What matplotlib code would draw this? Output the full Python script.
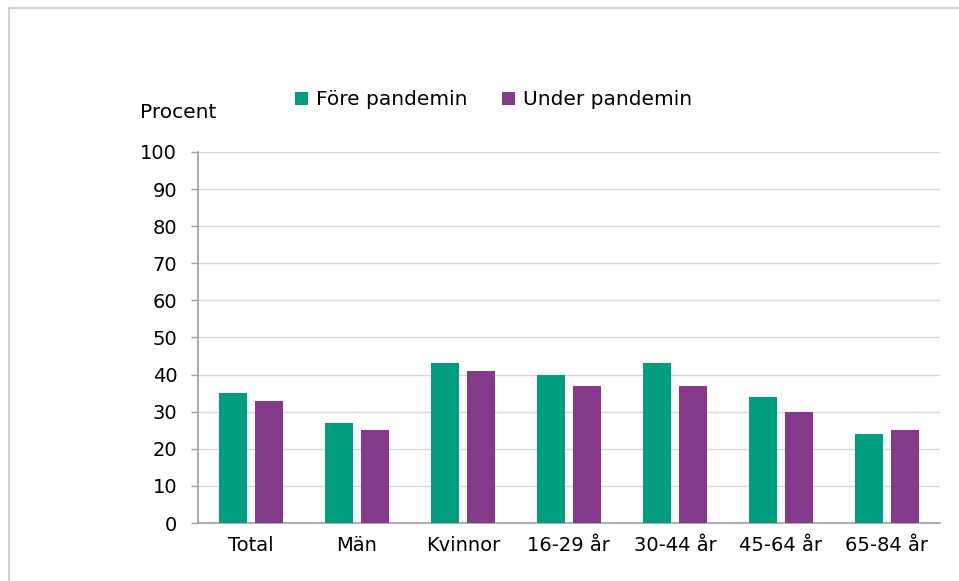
import numpy as np
import matplotlib.pyplot as plt
from matplotlib.lines import Line2D

# Data
categories = ["Total", "Män", "Kvinnor", "16-29 år", "30-44 år", "45-64 år", "65-84 år"]
fore = [35, 27, 43, 40, 43, 34, 24]
under = [33, 25, 41, 37, 37, 30, 25]
labels = ["Före pandemin", "Under pandemin"]

green = "#009e7e"
purple = "#843a8b"

plt.rcParams["font.family"] = ["DejaVu Sans"]

fig = plt.figure(figsize=(9.59, 5.81), dpi=100)
ax = fig.add_axes([0.2065, 0.0998, 0.7735, 0.6387])

x = np.arange(len(categories))
w = 0.265
off = 0.169
ax.bar(x - off, fore, w, color=green, label=labels[0], zorder=3)
ax.bar(x + off, under, w, color=purple, label=labels[1], zorder=3)

ax.set_xlim(-0.5, len(categories) - 0.5)
ax.set_ylim(0, 100)
ax.set_yticks(np.arange(0, 101, 10))
ax.set_xticks(x)
ax.set_xticklabels(categories)
ax.tick_params(axis="x", length=0, pad=9, labelsize=14)
ax.tick_params(axis="y", length=5, color="#a0a0a0", width=1, pad=10, labelsize=14)

ax.grid(axis="y", color="#d9d9d9", linewidth=1, zorder=0)
for s in ["top", "right"]:
    ax.spines[s].set_visible(False)
ax.spines["left"].set_color("#a0a0a0")
ax.spines["bottom"].set_color("#a0a0a0")
ax.spines["left"].set_linewidth(1.2)
ax.spines["bottom"].set_linewidth(1.2)

fig.text(0.146, 0.806, "Procent", fontsize=14.5, ha="left", va="center")
ax.legend(loc="center", bbox_to_anchor=(0.515, 0.828), bbox_transform=fig.transFigure,
          ncol=2, frameon=False, handlelength=0.65, handleheight=0.65,
          handletextpad=0.4, columnspacing=1.7, fontsize=14.5)

# outer frame (top and left edges only)
fig.lines.append(Line2D([0.009, 1.0], [0.986, 0.986], transform=fig.transFigure,
                        color="#c8c8c8", linewidth=1.2))
fig.lines.append(Line2D([0.009, 0.009], [0.0, 0.986], transform=fig.transFigure,
                        color="#c8c8c8", linewidth=1.2))

fig.savefig("out.png", dpi=100)
